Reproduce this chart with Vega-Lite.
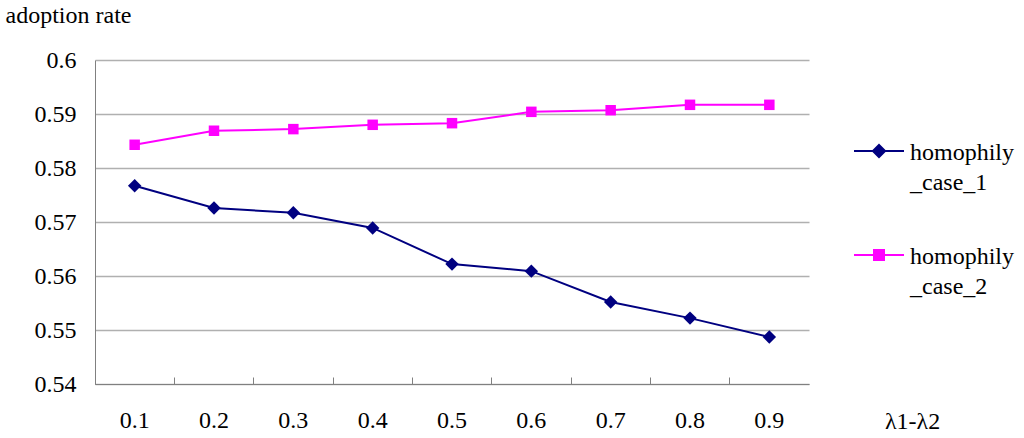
{
  "$schema": "https://vega.github.io/schema/vega-lite/v6.json",
  "width": 714,
  "height": 324,
  "autosize": {"type": "none"},
  "padding": {"left": 95, "top": 60, "right": 215, "bottom": 54},
  "background": "white",
  "config": {
    "font": "Liberation Serif",
    "view": {"stroke": null},
    "axis": {"labelFont": "Liberation Serif", "labelFontSize": 24, "labelColor": "black", "titleFont": "Liberation Serif", "titleColor": "black", "titleFontWeight": "normal", "domainColor": "#808080", "tickColor": "#808080"},
    "legend": {"labelFont": "Liberation Serif", "labelFontSize": 24, "labelColor": "black"}
  },
  "data": {
    "values": [
      {"x": "0.1", "series": "homophily_case_1", "rate": 0.5767},
      {"x": "0.2", "series": "homophily_case_1", "rate": 0.5726},
      {"x": "0.3", "series": "homophily_case_1", "rate": 0.5717},
      {"x": "0.4", "series": "homophily_case_1", "rate": 0.5689},
      {"x": "0.5", "series": "homophily_case_1", "rate": 0.5622},
      {"x": "0.6", "series": "homophily_case_1", "rate": 0.5609},
      {"x": "0.7", "series": "homophily_case_1", "rate": 0.5552},
      {"x": "0.8", "series": "homophily_case_1", "rate": 0.5522},
      {"x": "0.9", "series": "homophily_case_1", "rate": 0.5487},
      {"x": "0.1", "series": "homophily_case_2", "rate": 0.5843},
      {"x": "0.2", "series": "homophily_case_2", "rate": 0.5869},
      {"x": "0.3", "series": "homophily_case_2", "rate": 0.5872},
      {"x": "0.4", "series": "homophily_case_2", "rate": 0.5880},
      {"x": "0.5", "series": "homophily_case_2", "rate": 0.5883},
      {"x": "0.6", "series": "homophily_case_2", "rate": 0.5904},
      {"x": "0.7", "series": "homophily_case_2", "rate": 0.5907},
      {"x": "0.8", "series": "homophily_case_2", "rate": 0.5917},
      {"x": "0.9", "series": "homophily_case_2", "rate": 0.5917}
    ]
  },
  "encoding": {
    "x": {
      "field": "x", "type": "ordinal",
      "scale": {"type": "band", "paddingInner": 0, "paddingOuter": 0},
      "axis": {
        "title": "λ1-λ2", "titleFont": "Liberation Serif", "titleFontSize": 24, "titleX": 817, "titleY": 44, "titleAlign": "center", "titleBaseline": "alphabetic",
        "labelFont": "Liberation Serif", "labelFontSize": 24,
        "labelAngle": 0, "labelPadding": 31, "bandPosition": 0, "tickExtra": true, "tickSize": -7,
        "grid": false
      }
    },
    "y": {
      "field": "rate", "type": "quantitative",
      "scale": {"domain": [0.54, 0.6], "nice": false, "zero": false},
      "axis": {
        "title": "adoption rate", "titleFont": "Liberation Serif", "titleFontSize": 24, "titleAngle": 0, "titleX": -90, "titleY": -38, "titleAlign": "left", "titleBaseline": "alphabetic",
        "labelFont": "Liberation Serif", "labelFontSize": 24,
        "values": [0.54, 0.55, 0.56, 0.57, 0.58, 0.59, 0.6], "format": "~g",
        "ticks": false, "labelPadding": 19,
        "grid": true, "gridColor": "#b0b0b0", "gridWidth": 1.3
      }
    }
  },
  "layer": [
    {
      "mark": {"type": "line", "strokeWidth": 2},
      "encoding": {
        "color": {"field": "series", "type": "nominal", "scale": {"domain": ["homophily_case_1", "homophily_case_2"], "range": ["#000080", "#ff00ff"]}}
      }
    },
    {
      "mark": {"type": "point", "filled": true, "opacity": 1},
      "encoding": {
        "color": {"field": "series", "type": "nominal", "legend": {
          "title": null, "orient": "none", "legendX": 759, "legendY": 66,
          "symbolType": {"expr": "datum.value === 'homophily_case_1' ? 'M-1,-0.04L1,-0.04L1,0.04L-1,0.04Z M0,-0.3L0.3,0L0,0.3L-0.3,0Z' : 'M-1,-0.04L1,-0.04L1,0.04L-1,0.04Z M-0.24,-0.24L0.24,-0.24L0.24,0.24L-0.24,0.24Z'"},
          "symbolSize": 2500, "symbolOpacity": 1, "symbolStrokeWidth": 0,
          "labelOffset": 6, "rowPadding": 35, "labelFont": "Liberation Serif", "labelFontSize": 24, "labelBaseline": "alphabetic",
          "labelExpr": "['homophily', '_case_' + slice(datum.label, -1)]",
          "encode": {"labels": {"update": {"dy": {"value": 9}, "lineHeight": {"value": 30}}}}
        }},
        "shape": {"condition": {"test": "datum.series === 'homophily_case_1'", "value": "diamond"}, "value": "square"},
        "size": {"condition": {"test": "datum.series === 'homophily_case_1'", "value": 180}, "value": 110}
      }
    }
  ]
}
